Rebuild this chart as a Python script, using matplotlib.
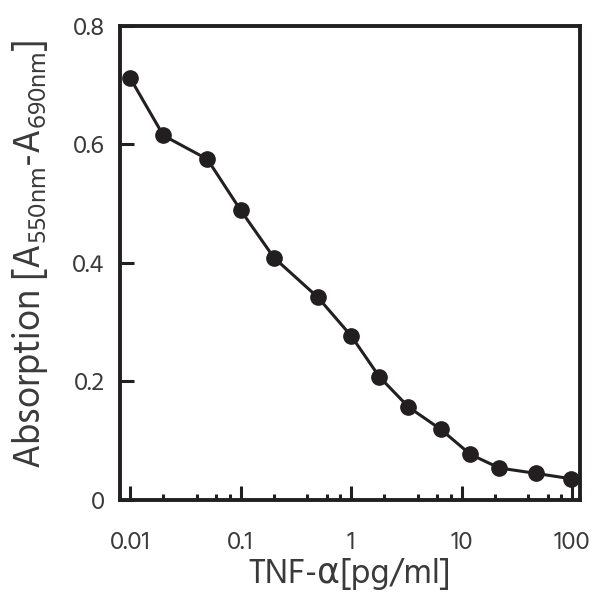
import matplotlib
matplotlib.use("Agg")
import matplotlib.pyplot as plt
from matplotlib import font_manager
from matplotlib.ticker import FixedLocator, NullFormatter, FixedFormatter

# Data
conc = [0.01, 0.02, 0.05, 0.1, 0.2, 0.5, 1.0, 1.8, 3.3, 6.5, 12, 22, 47, 97]
absorb = [0.712, 0.615, 0.575, 0.489, 0.409, 0.342, 0.277, 0.208, 0.157, 0.119, 0.077, 0.054, 0.045, 0.036]
xticks = [0.01, 0.1, 1, 10, 100]
xticklabels = ["0.01", "0.1", "1", "10", "100"]
yticks = [0, 0.2, 0.4, 0.6, 0.8]
yticklabels = ["0", "0.2", "0.4", "0.6", "0.8"]

fam = "Liberation Sans"
for cand in ["Hind", "Fira Sans", "PT Sans", "Liberation Sans"]:
    try:
        font_manager.findfont(font_manager.FontProperties(family=cand),
                              fallback_to_default=False)
        fam = cand
        break
    except Exception:
        pass

plt.rcParams["font.family"] = [fam, "DejaVu Sans"]
plt.rcParams["mathtext.fontset"] = "custom"
plt.rcParams["mathtext.rm"] = fam
plt.rcParams["mathtext.default"] = "regular"

ink = "#231f20"
txt = "#3a3a3a"

fig = plt.figure(figsize=(5.98, 6.01), dpi=100)
ax = fig.add_axes([0.2007, 0.168, 0.7693, 0.789])

ax.plot(conc, absorb, color=ink, lw=2.2, marker="o", ms=11, mfc=ink, mec=ink,
        clip_on=False, zorder=3)

ax.set_xscale("log")
ax.set_xlim(0.0081, 118)
ax.set_ylim(0, 0.8)

ax.xaxis.set_major_locator(FixedLocator(xticks))
ax.xaxis.set_major_formatter(FixedFormatter(xticklabels))
minors = [m * 10.0 ** e for e in range(-2, 2) for m in (2, 4, 6, 8)]
ax.xaxis.set_minor_locator(FixedLocator(minors))
ax.xaxis.set_minor_formatter(NullFormatter())
ax.yaxis.set_major_locator(FixedLocator(yticks))
ax.yaxis.set_major_formatter(FixedFormatter(yticklabels))

for s in ax.spines.values():
    s.set_linewidth(2.8)
    s.set_color(ink)

ax.tick_params(axis="both", which="major", direction="in", length=10, width=2.2,
               color=ink, labelsize=18.5, labelcolor=txt, top=False, right=False)
ax.tick_params(axis="x", which="major", pad=22)
ax.tick_params(axis="y", which="major", pad=11)
ax.tick_params(axis="x", which="minor", direction="in", length=4.5, width=2.2,
               color=ink, top=False)

ax.set_xlabel("TNF-α[pg/ml]", fontsize=25, color=txt, labelpad=3)
ax.set_ylabel("Absorption [A$_{550nm}$-A$_{690nm}$]", fontsize=27, color=txt)
ax.yaxis.set_label_coords(-0.152, 0.517)

fig.savefig("out.png", dpi=100, facecolor="white")
